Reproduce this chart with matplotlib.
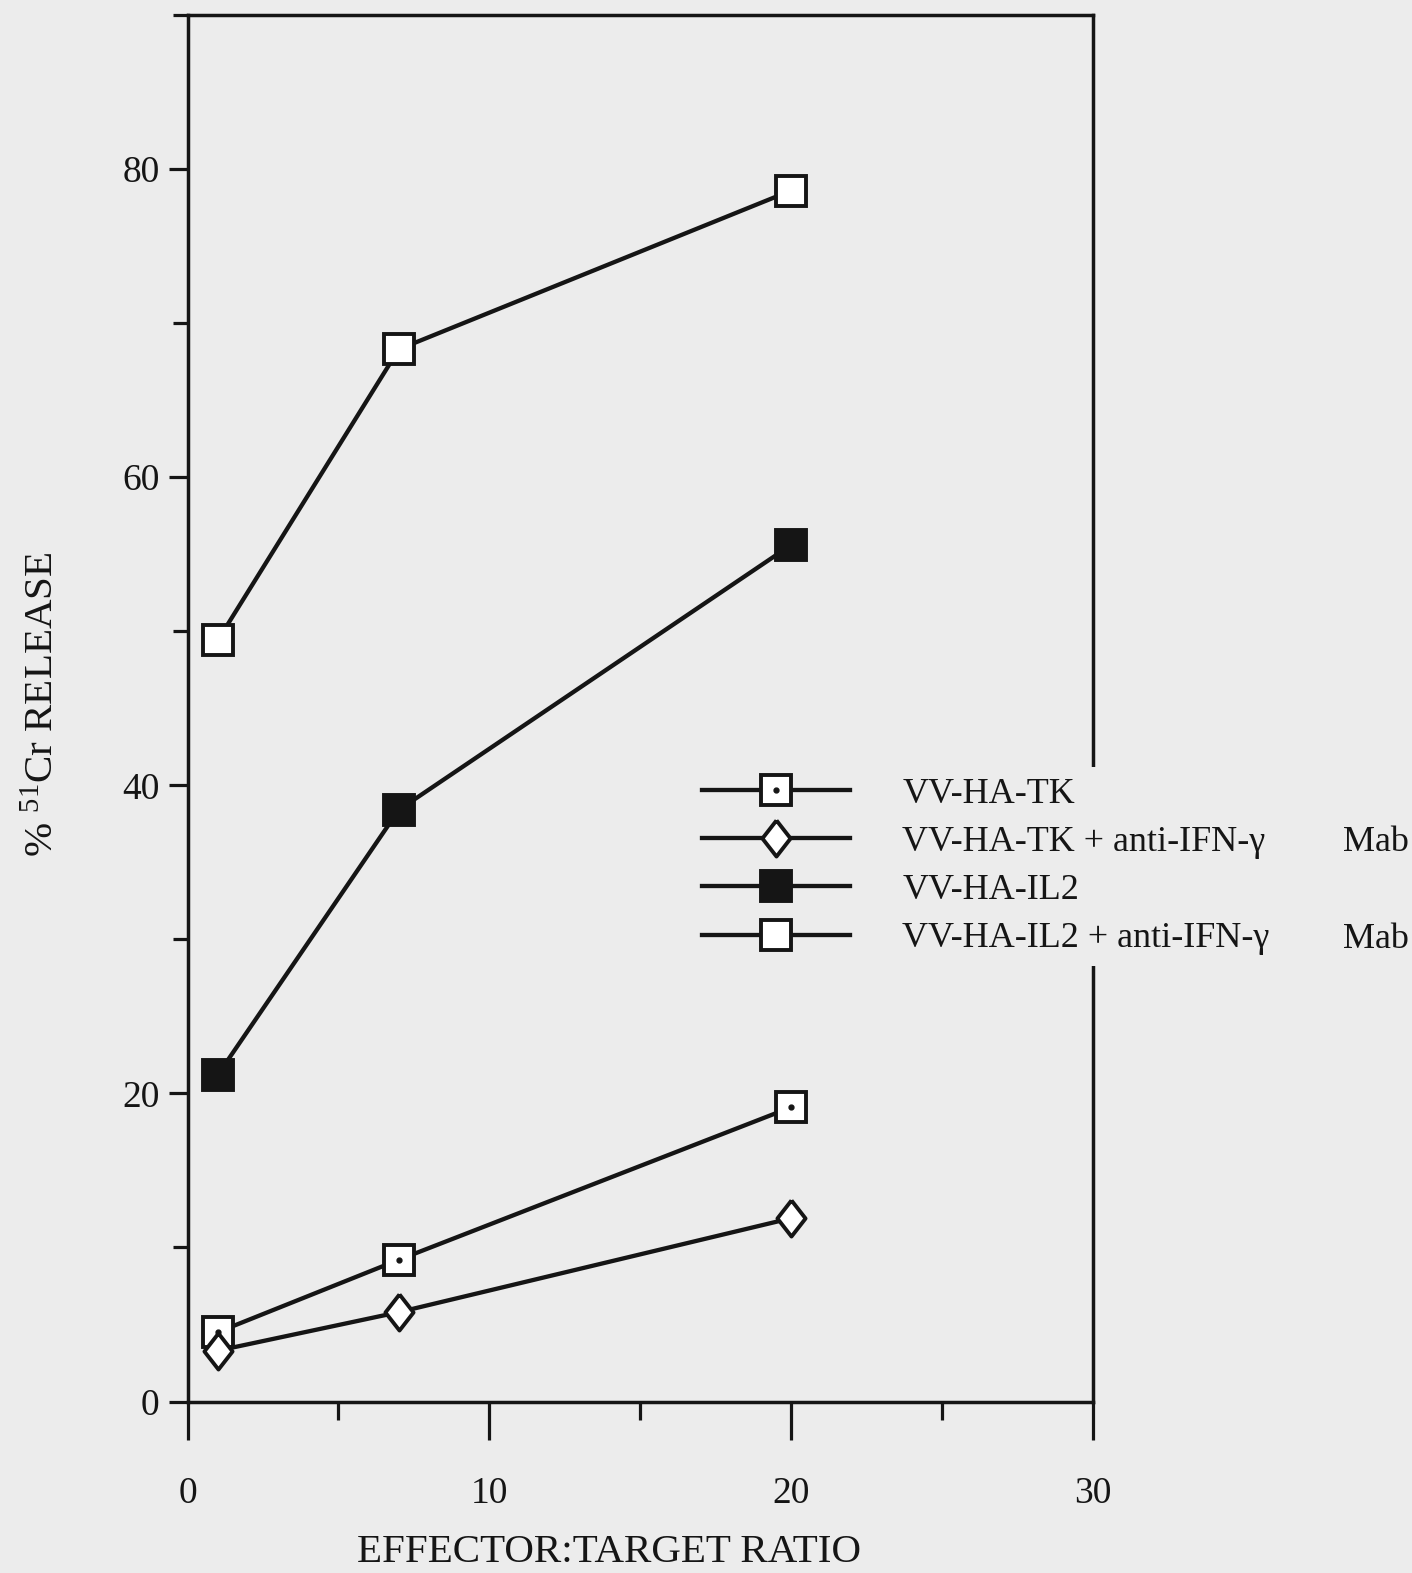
import matplotlib

matplotlib.use("Agg")
import matplotlib.pyplot as plt
from matplotlib.lines import Line2D
from matplotlib.legend_handler import HandlerTuple
from matplotlib.ticker import MultipleLocator

plt.rcParams["font.family"] = ["Liberation Serif", "DejaVu Serif"]
plt.rcParams["mathtext.fontset"] = "custom"
plt.rcParams["mathtext.rm"] = "Liberation Serif"
plt.rcParams["mathtext.default"] = "regular"

# effector:target ratios and % 51Cr release
ratio = [1, 7, 20]
tk = [4.5, 9.2, 19.1]
tk_anti = [3.3, 5.8, 11.9]
il2 = [21.2, 38.4, 55.6]
il2_anti = [49.4, 68.3, 78.6]

labels = ["VV-HA-TK", "VV-HA-TK + anti-IFN-\u03b3", "VV-HA-IL2",
          "VV-HA-IL2 + anti-IFN-\u03b3"]
label_tail = "Mab"

BG = "#ececec"
INK = "#151515"
DIAMOND = [(0, 1), (0.78, 0), (0, -1), (-0.78, 0), (0, 1)]

fig = plt.figure(figsize=(14.12, 15.73), dpi=100, facecolor=BG)
ax = fig.add_axes([0.1328, 0.109, 0.6413, 0.8815], facecolor=BG)

line_kw = dict(color=INK, lw=3.1, mew=2.8, mec=INK, ms=22)
dia_kw = dict(line_kw, ms=26)
ax.plot(ratio, il2_anti, marker="s", mfc="white", **line_kw)
ax.plot(ratio, il2, marker="s", mfc=INK, **line_kw)
ax.plot(ratio, tk, marker="s", mfc="white", **line_kw)
ax.plot(ratio, tk, ls="none", marker="o", ms=3.5, color=INK)
ax.plot(ratio, tk_anti, marker=DIAMOND, mfc="white", **dia_kw)

ax.set_xlim(0, 30)
ax.set_ylim(0, 90)
ax.xaxis.set_major_locator(MultipleLocator(10))
ax.xaxis.set_minor_locator(MultipleLocator(5))
ax.yaxis.set_minor_locator(MultipleLocator(10))
ax.set_yticks([0, 20, 40, 60, 80])
ax.tick_params(axis="x", which="major", direction="out", length=27, width=2.3,
               pad=27, labelsize=27, color=INK, labelcolor=INK)
ax.tick_params(axis="x", which="minor", direction="out", length=13, width=2.3,
               color=INK)
ax.tick_params(axis="y", which="major", direction="out", length=14, width=2.3,
               pad=6, labelsize=27, color=INK, labelcolor=INK)
ax.tick_params(axis="y", which="minor", direction="out", length=11, width=2.3,
               color=INK)
for sp in ax.spines.values():
    sp.set_linewidth(2.5)
    sp.set_color(INK)

fig.text(0.431, 0.001, "EFFECTOR:TARGET RATIO", ha="center", va="bottom",
         fontsize=29.5, color=INK)
fig.text(0.031, 0.552, "% $^{51}$Cr RELEASE", rotation=90, ha="center",
         va="center", fontsize=29.5, color=INK)

# legend box is opaque: it hides the right spine where it crosses, as in the original
leg_kw = dict(color=INK, lw=3.1, mew=2.8, mec=INK, ms=22)
h_tk = (Line2D([], [], marker="s", mfc="white", **leg_kw),
        Line2D([], [], ls="none", marker="o", ms=3.5, color=INK))
h_tka = Line2D([], [], marker=DIAMOND, mfc="white", **dict(leg_kw, ms=26))
h_il2 = Line2D([], [], marker="s", mfc=INK, **leg_kw)
h_il2a = Line2D([], [], marker="s", mfc="white", **leg_kw)
leg = fig.legend([h_tk, h_tka, h_il2, h_il2a], labels, loc="upper left",
                 bbox_to_anchor=(0.4893, 0.5125), frameon=True, fancybox=False,
                 facecolor=BG, edgecolor="none", framealpha=1, fontsize=26,
                 handlelength=4.1, handletextpad=1.45, labelspacing=0.41,
                 borderpad=0.3, borderaxespad=0, numpoints=1,
                 handler_map={tuple: HandlerTuple(ndivide=1)})
for t in leg.get_texts():
    t.set_color(INK)

for y in (0.4645, 0.4030):
    fig.text(0.951, y, label_tail, ha="left", va="center", fontsize=26,
             color=INK)

fig.savefig("out.png", dpi=100, facecolor=BG)
